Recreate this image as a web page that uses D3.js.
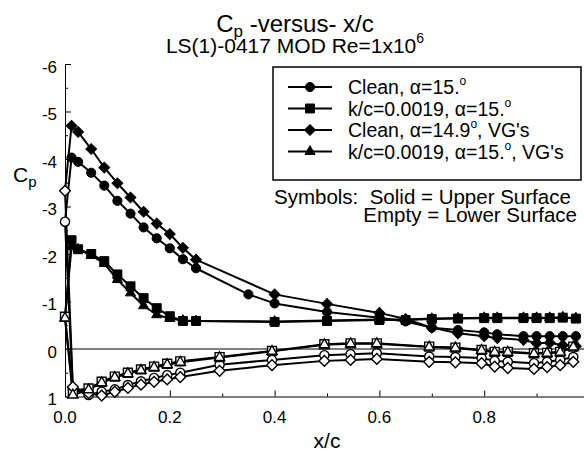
<!DOCTYPE html>
<html>
<head>
<meta charset="utf-8">
<script src="https://cdn.jsdelivr.net/npm/d3@7"></script>
<style>
  html, body { margin: 0; padding: 0; background: #fff; }
  svg { display: block; font-family: "Liberation Sans", Arial, Helvetica, sans-serif; }
</style>
</head>
<body>
<svg id="chart" width="584" height="459"></svg>
<script>
// Pressure coefficient distributions, LS(1)-0417 MOD, Re = 1x10^6

// Upper-surface tap locations (x/c)
const upperX = [0.0125, 0.025, 0.05, 0.075, 0.1, 0.125, 0.15, 0.175, 0.2, 0.225, 0.25,
                0.35, 0.4, 0.5, 0.6, 0.65, 0.7, 0.75, 0.8, 0.825, 0.875, 0.9, 0.925, 0.95, 0.975];
// Lower-surface tap locations (x/c), leading-edge tap first
const lowerX = [0, 0.015, 0.045, 0.07, 0.095, 0.12, 0.145, 0.17, 0.195, 0.22, 0.295, 0.395,
                0.495, 0.545, 0.595, 0.695, 0.745, 0.795, 0.82, 0.845, 0.895, 0.92, 0.945, 0.97];

// Clean, alpha = 15.
const cleanUpper = [-4.03, -3.94, -3.71, -3.44, -3.12, -2.85, -2.56, -2.33, -2.12, -1.89, -1.70,
                    -1.15, -0.96, -0.78, -0.66, -0.58, -0.45, -0.40, -0.35, -0.31, -0.27, -0.27, -0.27, -0.27, -0.27];
const cleanLower = [-2.68, 0.84, 0.97, 0.90, 0.85, 0.76, 0.68, 0.61, 0.55, 0.50, 0.33, 0.23,
                    0.13, 0.11, 0.09, 0.16, 0.17, 0.19, 0.25, 0.27, 0.30, 0.27, 0.23, 0.17];

// k/c = 0.0019, alpha = 15.
const roughUpper = [-2.29, -2.10, -2.00, -1.85, -1.57, -1.32, -1.07, -0.86, -0.69, -0.59, -0.59,
                    null, -0.57, -0.59, -0.61, -0.61, -0.63, -0.64, -0.65, -0.65, -0.65, -0.65, -0.65, -0.66, -0.64];
const roughLower = [-0.68, 0.88, 0.83, 0.69, 0.58, 0.50, 0.43, 0.37, 0.31, 0.26, 0.17, 0.04,
                    -0.10, -0.12, -0.12, -0.05, -0.03, 0.02, 0.06, 0.06, 0.09, 0.08, 0.06, -0.05];

// Clean, alpha = 14.9, VG's
const cleanVgUpper = [-4.70, -4.57, -4.21, -3.82, -3.49, -3.19, -2.89, -2.64, -2.42, -2.13, -1.88,
                      null, -1.15, -0.95, -0.76, -0.63, -0.45, -0.33, -0.27, -0.23, -0.19, -0.12, -0.13, -0.08, -0.06];
const cleanVgLower = [-3.33, 0.80, 0.93, 0.98, 0.90, 0.82, 0.75, 0.69, 0.64, 0.59, 0.46, 0.34,
                      0.25, 0.23, 0.21, 0.27, 0.28, 0.30, 0.37, 0.40, 0.42, 0.38, 0.34, 0.27];

// k/c = 0.0019, alpha = 15., VG's
const roughVgUpper = [-2.15, -2.10, -1.97, -1.80, -1.46, -1.18, -0.91, -0.72, -0.64, -0.60, -0.59,
                      null, -0.58, -0.60, -0.62, -0.62, -0.64, -0.65, -0.66, -0.66, -0.66, -0.66, -0.66, -0.67, -0.65];
const roughVgLower = [-0.65, 0.97, 0.86, 0.71, 0.60, 0.52, 0.45, 0.39, 0.33, 0.28, 0.18, 0.05,
                      -0.09, -0.11, -0.11, -0.04, -0.02, 0.03, 0.07, 0.07, 0.10, 0.09, 0.07, -0.04];

const seriesNames = ["Clean", "k/c=0.0019", "Clean", "k/c=0.0019"];
const seriesAlpha = ["15.", "15.", "14.9", "15."];
const seriesSuffix = ["", "", ", VG's", ", VG's"];
const seriesShape = ["circle", "square", "diamond", "triangle"];

const yTicks = [-6, -5, -4, -3, -2, -1, 0, 1];
const yMinor = [-5.5, -4.5, -3.5, -2.5, -1.5, -0.5, 0.5];
const xTicks = [0, 0.2, 0.4, 0.6, 0.8];
const xMinor = [0.1, 0.3, 0.5, 0.7, 0.9];

const svg = d3.select("#chart");
const x = d3.scaleLinear().domain([0, 1]).range([65, 589]);
const y = d3.scaleLinear().domain([-6, 1]).range([64, 396.5]);

// ---- axes ----
const gy = svg.append("g").attr("transform", "translate(65,0)");
gy.call(d3.axisLeft(y).tickValues(yTicks).tickSize(-6).tickSizeOuter(0).tickFormat(""));
gy.append("g").call(d3.axisLeft(y).tickValues(yMinor).tickSize(-3).tickFormat(""))
  .call(g => g.select(".domain").remove());
gy.selectAll("path, line").attr("stroke", "#000").attr("stroke-width", 1);

const gx = svg.append("g").attr("transform", "translate(0,396.5)");
gx.call(d3.axisBottom(x).tickValues(xTicks.slice(1)).tickSize(-6).tickSizeOuter(0).tickFormat(""));
gx.append("g").call(d3.axisBottom(x).tickValues(xMinor).tickSize(-3).tickFormat(""))
  .call(g => g.select(".domain").remove());
gx.selectAll("path, line").attr("stroke", "#000").attr("stroke-width", 1);

svg.selectAll(".ylab").data(yTicks).join("text")
  .attr("x", 57).attr("y", d => y(d) + 8.5)
  .attr("text-anchor", "end").attr("font-size", 17)
  .text(d => String(d));

svg.selectAll(".xlab").data(xTicks).join("text")
  .attr("x", d => x(d)).attr("y", 423)
  .attr("text-anchor", "middle").attr("font-size", 17)
  .text(d => d.toFixed(1));

// Cp = 0 reference line
svg.append("line")
  .attr("x1", x(0)).attr("x2", x(1))
  .attr("y1", y(0)).attr("y2", y(0))
  .attr("stroke", "#000").attr("stroke-width", 1);

// ---- titles ----
const t1 = svg.append("text").attr("x", 295).attr("y", 32)
  .attr("text-anchor", "middle").attr("font-size", 24);
t1.append("tspan").text("C");
t1.append("tspan").attr("font-size", 17).attr("dy", 5).text("p");
t1.append("tspan").attr("dy", -5).text(" -versus- x/c");

const t2 = svg.append("text").attr("x", 295).attr("y", 53)
  .attr("text-anchor", "middle").attr("font-size", 21);
t2.append("tspan").text("LS(1)-0417 MOD Re=1x10");
t2.append("tspan").attr("font-size", 14).attr("dy", -10).text("6");

svg.append("text").attr("x", 327).attr("y", 448)
  .attr("text-anchor", "middle").attr("font-size", 21).text("x/c");

const yl = svg.append("text").attr("x", 13).attr("y", 182).attr("font-size", 21);
yl.append("tspan").text("C");
yl.append("tspan").attr("font-size", 15).attr("dy", 5).text("p");

// ---- series ----
function symbolPath(shape) {
  if (shape === "circle") return d3.symbol().type(d3.symbolCircle).size(66)();
  if (shape === "square") return d3.symbol().type(d3.symbolSquare).size(80)();
  if (shape === "diamond") return d3.symbol().type(d3.symbolSquare).size(58)();
  return d3.symbol().type(d3.symbolTriangle).size(44)();
}
function placeMarker(sel, shape) {
  sel.attr("d", symbolPath(shape))
     .attr("transform", d => `translate(${x(d.x)},${y(d.cp)})` + (shape === "diamond" ? " rotate(45)" : ""));
}

const upperSets = [cleanUpper, roughUpper, cleanVgUpper, roughVgUpper];
const lowerSets = [cleanLower, roughLower, cleanVgLower, roughVgLower];

const series = seriesShape.map((shape, i) => {
  const up = upperX.map((xv, j) => ({ x: xv, cp: upperSets[i][j] })).filter(d => d.cp !== null);
  const lo = lowerX.map((xv, j) => ({ x: xv, cp: lowerSets[i][j] }));
  return { shape, up, lo, path: up.slice().reverse().concat(lo) };
});

const line = d3.line().x(d => x(d.x)).y(d => y(d.cp));

svg.append("g").selectAll("path").data(series).join("path")
  .attr("d", d => line(d.path))
  .attr("fill", "none").attr("stroke", "#000").attr("stroke-width", 2)
  .attr("stroke-linejoin", "round");

series.forEach(s => {
  const g = svg.append("g");
  g.selectAll(".lo").data(s.lo).join("path")
    .attr("fill", "#fff").attr("stroke", "#000").attr("stroke-width", 1.4)
    .call(placeMarker, s.shape);
  g.selectAll(".up").data(s.up).join("path")
    .attr("fill", "#000").attr("stroke", "#000").attr("stroke-width", 1)
    .call(placeMarker, s.shape);
});

// ---- legend ----
svg.append("rect").attr("x", 273).attr("y", 67).attr("width", 308).attr("height", 113)
  .attr("fill", "#fff").attr("stroke", "#000").attr("stroke-width", 1.5);

const rowY = [87, 108.5, 130, 151.5];
seriesShape.forEach((shape, i) => {
  const ry = rowY[i];
  svg.append("line").attr("x1", 288).attr("x2", 332).attr("y1", ry).attr("y2", ry)
    .attr("stroke", "#000").attr("stroke-width", 2);
  svg.append("path").datum({ x: x.invert(310), cp: y.invert(ry) })
    .attr("fill", "#000").attr("stroke", "#000").attr("stroke-width", 1)
    .call(placeMarker, shape);
  const t = svg.append("text").attr("x", 348).attr("y", ry + 7).attr("font-size", 19.5);
  t.append("tspan").text(seriesNames[i] + ", ");
  t.append("tspan").text("\u03b1");
  t.append("tspan").text("=" + seriesAlpha[i]);
  t.append("tspan").attr("font-size", 12).attr("dy", -9).text("o");
  t.append("tspan").attr("dy", 9).text(seriesSuffix[i]);
});

svg.append("text").attr("x", 274).attr("y", 204)
  .attr("font-size", 20.5).style("white-space", "pre")
  .text("Symbols:  Solid = Upper Surface");
svg.append("text").attr("x", 577).attr("y", 222).attr("text-anchor", "end")
  .attr("font-size", 20.5).text("Empty = Lower Surface");
</script>
</body>
</html>
